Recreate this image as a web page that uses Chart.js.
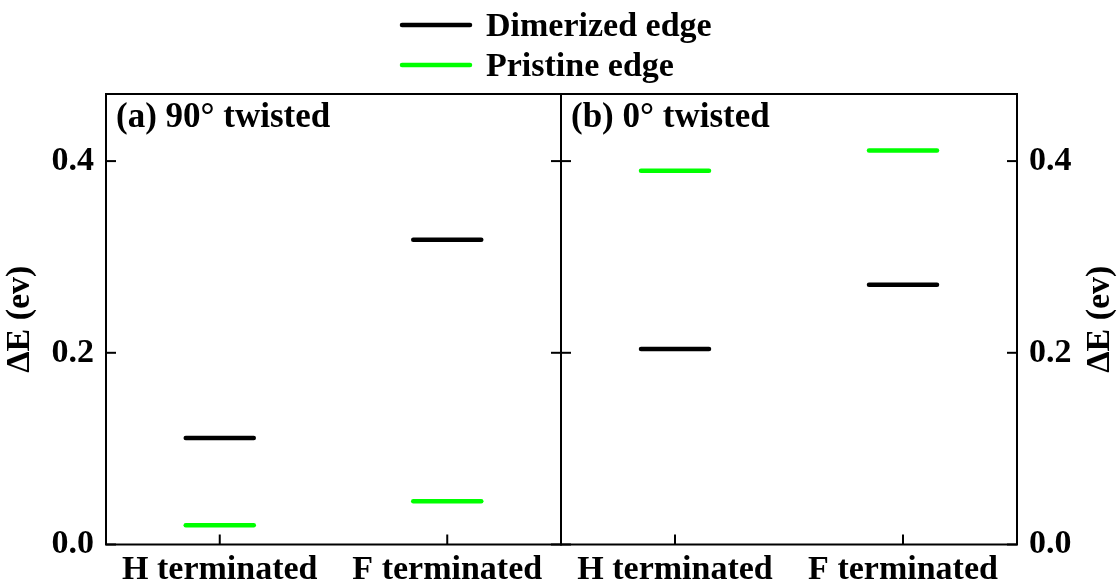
<!DOCTYPE html>
<html>
<head>
<meta charset="utf-8">
<script src="https://cdn.jsdelivr.net/npm/chart.js@4/dist/chart.umd.min.js"></script>
<style>
  html, body { margin: 0; padding: 0; background: #fff; }
  #wrap { position: relative; width: 1120px; height: 583px; background: #fff; }
  canvas { position: absolute; left: 0; top: 0; }
</style>
</head>
<body>
<div id="wrap">
  <canvas id="left" width="1120" height="583"></canvas>
  <canvas id="right" width="1120" height="583"></canvas>
</div>
<script>
// data
const categories = ['H terminated', 'F terminated'];
const seriesNames = ['Dimerized edge', 'Pristine edge'];
const seriesColors = ['#000000', '#00ff00'];
const dimerized90 = [0.111, 0.318];
const pristine90 = [0.020, 0.045];
const dimerized0 = [0.204, 0.271];
const pristine0 = [0.390, 0.411];
const yTicks = [0.0, 0.2, 0.4];
const yMax = 0.47;
const panelTitles = ['(a) 90° twisted', '(b) 0° twisted'];
const yTitle = 'ΔE (ev)';

const FONT = '"Liberation Serif", "Times New Roman", serif';

function line(ctx, x1, y1, x2, y2) {
  ctx.beginPath();
  ctx.moveTo(x1, y1);
  ctx.lineTo(x2, y2);
  ctx.stroke();
}

// box, inward ticks, panel title, axis title and (optionally) legend
const decor = {
  id: 'decor',
  beforeDatasetsDraw(chart) {
    chart.ctx.lineCap = 'round';
  },
  afterDraw(chart, args, opts) {
    const ctx = chart.ctx;
    const a = chart.chartArea;
    const xs = chart.scales.x, ys = chart.scales.y;
    ctx.save();
    ctx.strokeStyle = '#000';
    ctx.fillStyle = '#000';
    ctx.lineWidth = 2;
    ctx.lineCap = 'butt';
    ctx.strokeRect(a.left, a.top, a.right - a.left, a.bottom - a.top);

    ys.ticks.forEach((t, i) => {
      const py = ys.getPixelForTick(i);
      line(ctx, a.left, py, a.left + 10, py);
      line(ctx, a.right - 10, py, a.right, py);
    });
    xs.ticks.forEach((t, i) => {
      const px = xs.getPixelForTick(i);
      line(ctx, px, a.bottom, px, a.bottom - 10);
    });

    ctx.font = 'bold 35px ' + FONT;
    ctx.textAlign = 'left';
    ctx.textBaseline = 'alphabetic';
    ctx.fillText(opts.title, a.left + 10, a.top + 33);

    // y title, rotated the same way on both sides
    ctx.font = 'bold 34px ' + FONT;
    ctx.save();
    ctx.translate(opts.yTitleX, (a.top + a.bottom) / 2);
    ctx.rotate(-Math.PI / 2);
    ctx.textAlign = 'center';
    ctx.textBaseline = 'middle';
    ctx.fillText(yTitle, 0, 0);
    ctx.restore();

    if (opts.legend) {
      chart.data.datasets.forEach((ds, i) => {
        const y = 25 + 40 * i;
        ctx.strokeStyle = ds.borderColor;
        ctx.lineWidth = 4.5;
        ctx.lineCap = 'round';
        line(ctx, 402, y, 470, y);
        ctx.fillStyle = '#000';
        ctx.textAlign = 'left';
        ctx.textBaseline = 'middle';
        ctx.fillText(ds.label, 486, y + 2);
      });
    }
    ctx.restore();
  }
};

function makePanel(id, dimer, prist, side) {
  const isLeft = side === 'left';
  return new Chart(document.getElementById(id), {
    type: 'line',
    data: {
      labels: categories,
      datasets: [dimer, prist].map((vals, i) => ({
        label: seriesNames[i],
        data: vals,
        showLine: false,
        borderColor: seriesColors[i],
        backgroundColor: seriesColors[i],
        pointStyle: 'line',
        pointRadius: 34,
        pointHoverRadius: 34,
        pointBorderWidth: 4.5,
        pointHoverBorderWidth: 4.5
      }))
    },
    options: {
      responsive: false,
      animation: false,
      events: [],
      layout: {
        padding: isLeft ? { left: 0, right: 559, top: 94, bottom: 0 }
                        : { left: 561, right: 0, top: 94, bottom: 0 }
      },
      plugins: {
        legend: { display: false },
        tooltip: { enabled: false },
        decor: {
          title: isLeft ? panelTitles[0] : panelTitles[1],
          yTitleX: isLeft ? 20 : 1100,
          legend: isLeft
        }
      },
      scales: {
        x: {
          type: 'category',
          offset: true,
          grid: { display: false, drawTicks: false },
          border: { display: false },
          ticks: {
            color: '#000',
            font: { family: FONT, size: 34, weight: 'bold' },
            padding: 5,
            maxRotation: 0,
            autoSkip: false
          },
          afterFit(s) { s.height = 35; }
        },
        y: {
          position: side,
          min: 0,
          max: yMax,
          grid: { display: false, drawTicks: false },
          border: { display: false },
          ticks: {
            color: '#000',
            font: { family: FONT, size: 34, weight: 'bold' },
            padding: 12,
            callback: v => Number(v).toFixed(1)
          },
          afterBuildTicks(s) { s.ticks = yTicks.map(v => ({ value: v })); },
          afterFit(s) { s.width = isLeft ? 106 : 103; }
        }
      }
    },
    plugins: [decor]
  });
}

makePanel('left', dimerized90, pristine90, 'left');
makePanel('right', dimerized0, pristine0, 'right');
</script>
</body>
</html>
